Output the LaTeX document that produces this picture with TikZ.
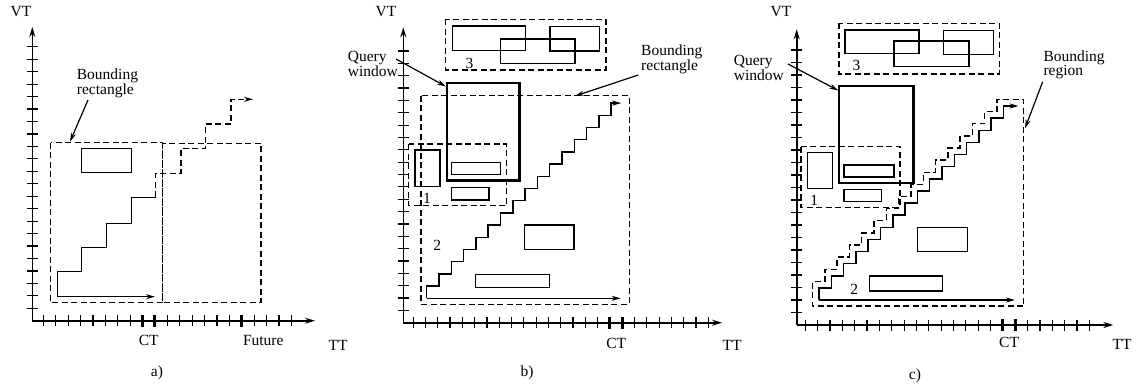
\documentclass[tikz,border=0pt]{standalone}
\usepackage{fontspec}
\setmainfont{Liberation Serif}
\usetikzlibrary{arrows.meta}
\begin{document}
\begin{tikzpicture}[x=1pt,y=-1pt,
  ax/.style={line width=1.6pt,-{Stealth[length=10pt,width=6pt]}},
  tk/.style={line width=1.2pt},
  btk/.style={line width=3pt},
  dbox/.style={line width=1.4pt,dash pattern=on 6pt off 3.5pt},
  sbox/.style={line width=1.4pt},
  qbox/.style={line width=2.4pt},
  stair/.style={line width=1.5pt},
  lbl/.style={font=\fontsize{15.5}{14}\selectfont, inner sep=0pt},
  larr/.style={line width=1.2pt,-{Stealth[length=9pt,width=5pt]}},
  parr/.style={line width=1.3pt,-{Stealth[length=9pt,width=5pt]}}
]
\fill[white] (0,0) rectangle (1139,388);
\useasboundingbox (0,0) rectangle (1139,388);

% ================= panel a =================
\coordinate (aO) at (32.3,320.7);
\coordinate (aVTend) at (32.3,27);
\coordinate (aTTend) at (315,320.7);
\foreach \k in {1,...,22} \draw[tk] (26.8,{320.7-12.45*\k}) -- (37.8,{320.7-12.45*\k});
\foreach \k in {1,...,21} \draw[tk] ({30.9+12.4*\k},315.2) -- ({30.9+12.4*\k},326.2);
\foreach \k in {9,10,17} \draw[btk] ({30.9+12.4*\k},314.7) -- ({30.9+12.4*\k},326.7);
\draw[ax] (aO) -- (aVTend);
\draw[ax] (aO) -- (aTTend);
\node[lbl] (aVT) at (21,12) {VT};
\node[lbl] (aTT) at (338,345) {TT};
\node[lbl] (aCT) at (148.7,340) {CT};
\node[lbl] (aFut) at (263.3,340) {Future};
\node[lbl] (acap) at (157,373) {a)};
% bounding rectangles
\draw[dbox] (50.7,142.7) rectangle (162.3,302.7);
\draw[dbox] (162.3,143.3) rectangle (261,302.7);
\draw[sbox] (81.7,148.3) rectangle (131.7,172.3);
% staircase
\coordinate (aS) at (57.3,296.7);
\coordinate (aSend) at (155,296.7);
\draw[parr] (aS) -- (aSend);
\draw[stair] (aS) -- (57.3,271.7) -- (81.7,271.7) -- (81.7,247.3) -- (106.7,247.3)
  -- (106.7,223.3) -- (131.7,223.3) -- (131.7,197.3) -- (155.7,197.3) coordinate (aSm);
\draw[dbox,-{Stealth[length=9pt,width=5pt]}] (aSm) -- (155.7,173.3) -- (181,173.3) -- (181,148.3)
  -- (205.7,148.3) -- (205.7,124) -- (231,124) -- (231,99.3) -- (253,99.3);
\node[lbl,anchor=west,align=left] (aBR) at (76.7,83) {Bounding\\rectangle};
\coordinate (aBRa) at (88,100);
\coordinate (aBRb) at (70,141.7);
\draw[larr] (aBRa) -- (aBRb);

% ================= panel b =================
\coordinate (bO) at (403.3,322.7);
\coordinate (bVTend) at (403.3,27.3);
\coordinate (bTTend) at (722,322.7);
\foreach \k in {1,...,22} \draw[tk] (397.8,{322.7-12.35*\k}) -- (408.8,{322.7-12.35*\k});
\foreach \k in {0,...,24} \draw[tk] ({413.1+12.3*\k},317.2) -- ({413.1+12.3*\k},328.2);
\foreach \k in {16,17} \draw[btk] ({413.1+12.3*\k},316.7) -- ({413.1+12.3*\k},328.7);
\draw[ax] (bO) -- (bVTend);
\draw[ax] (bO) -- (bTTend);
\node[lbl] (bVT) at (386,12) {VT};
\node[lbl] (bTT) at (732,345) {TT};
\node[lbl] (bCT) at (616.3,343) {CT};
\node[lbl] (bcap) at (527,373) {b)};
% cluster 3
\draw[dbox] (445.7,19.3) rectangle (606,70);
\draw[sbox] (452.3,26) rectangle (525.7,50.7);
\draw[sbox] (500.7,39) rectangle (575,63.3);
\draw[sbox] (550,26.7) rectangle (599.3,51);
\node[lbl] (b3) at (469.5,63) {3};
% query window
\draw[qbox] (446.7,82.7) rectangle (519.3,180.3);
% bounding rectangle
\draw[dbox] (421,95.7) rectangle (629.3,304.3);
% cluster 1
\draw[dbox] (408.5,144) rectangle (506.7,205.5);
\draw[sbox] (415,150) rectangle (440,186.7);
\draw[sbox] (451.7,162.7) rectangle (500.7,174.3);
\draw[sbox] (451.7,187.7) rectangle (489,200);
\node[lbl] (b1) at (427,198) {1};
\node[lbl] (b2) at (437.3,245) {2};
\draw[sbox] (524.3,225) rectangle (574,249.3);
\draw[sbox] (475.7,274.3) rectangle (549.3,287.3);
% staircase
\coordinate (bS) at (426.7,298.3);
\coordinate (bSend) at (620.7,298.3);
\draw[parr] (bS) -- (bSend);
\draw[stair,-{Stealth[length=9pt,width=5pt]}] (bS) \foreach \i in {1,...,15} { -- ++(0,-12.2) -- ++(12.3,0) } -- ++(0,-12.2) -- ++(10,0);
% labels
\node[lbl,anchor=east,align=left] (bQW) at (398,64) {Query\\window};
\coordinate (bQa) at (396,59);
\coordinate (bQb) at (446,86.5);
\draw[larr] (bQa) -- (bQb);
\node[lbl,anchor=west,align=left] (bBR) at (641,59) {Bounding\\rectangle};
\coordinate (bBa) at (638.3,75);
\coordinate (bBb) at (575,96);
\draw[larr] (bBa) -- (bBb);

% ================= panel c =================
\coordinate (cO) at (796.7,325);
\coordinate (cVTend) at (796.7,29.3);
\coordinate (cTTend) at (1113.3,325);
\foreach \k in {1,...,22} \draw[tk] (791.2,{325-12.5*\k}) -- (802.2,{325-12.5*\k});
\foreach \k in {0,...,23} \draw[tk] ({805.3+12.35*\k},319.5) -- ({805.3+12.35*\k},330.5);
\foreach \k in {16,17} \draw[btk] ({805.3+12.35*\k},319) -- ({805.3+12.35*\k},331);
\draw[ax] (cO) -- (cVTend);
\draw[ax] (cO) -- (cTTend);
\node[lbl] (cVT) at (781,12) {VT};
\node[lbl] (cTT) at (1122,344) {TT};
\node[lbl] (cCT) at (1009.1,342) {CT};
\node[lbl] (ccap) at (915,376) {c)};
% cluster 3
\draw[dbox] (839,23.3) rectangle (999.3,74);
\draw[sbox] (845,30) rectangle (919,53.3);
\draw[sbox] (894,41) rectangle (969,66.7);
\draw[sbox] (943.3,30.7) rectangle (993.3,54.3);
\node[lbl] (c3) at (856.5,65.5) {3};
% query window
\draw[qbox] (839,86) rectangle (913.3,183);
% cluster 1
\draw[dbox] (801,146.7) rectangle (900,207.3);
\draw[sbox] (807.5,152.7) rectangle (832.3,188.7);
\draw[sbox] (844,165) rectangle (894,177);
\draw[sbox] (844,189.3) rectangle (881.7,201.7);
\node[lbl] (c1) at (814.3,200) {1};
\node[lbl] (c2) at (854.3,289.3) {2};
\draw[sbox] (917.3,227.3) rectangle (967.3,251.7);
\draw[sbox] (869.3,276) rectangle (942.3,291);
% bounding region
\draw[dbox] (1023.3,306) -- (812.5,306) -- (812.5,293.5)
  \foreach \i in {1,...,15} { -- ++(0,-12.125) -- ++(12.3,0) } -- ++(0,-12.125) -- (1023.3,99.5) -- cycle;
% staircase
\coordinate (cS) at (819,300);
\coordinate (cSend) at (1015,300);
\draw[parr] (cS) -- (cSend);
\draw[stair,-{Stealth[length=9pt,width=5pt]}] (cS) \foreach \i in {1,...,15} { -- ++(0,-12.125) -- ++(12.3,0) } -- ++(0,-12.125) -- ++(15,0);
% labels
\node[lbl,anchor=east,align=left] (cQW) at (784,68) {Query\\window};
\coordinate (cQa) at (788,64);
\coordinate (cQb) at (838.3,90.5);
\draw[larr] (cQa) -- (cQb);
\node[lbl,anchor=west,align=left] (cBR) at (1043.3,65) {Bounding\\region};
\coordinate (cBa) at (1042.7,81.7);
\coordinate (cBb) at (1025,128.3);
\draw[larr] (cBa) -- (cBb);
\end{tikzpicture}
\end{document}
